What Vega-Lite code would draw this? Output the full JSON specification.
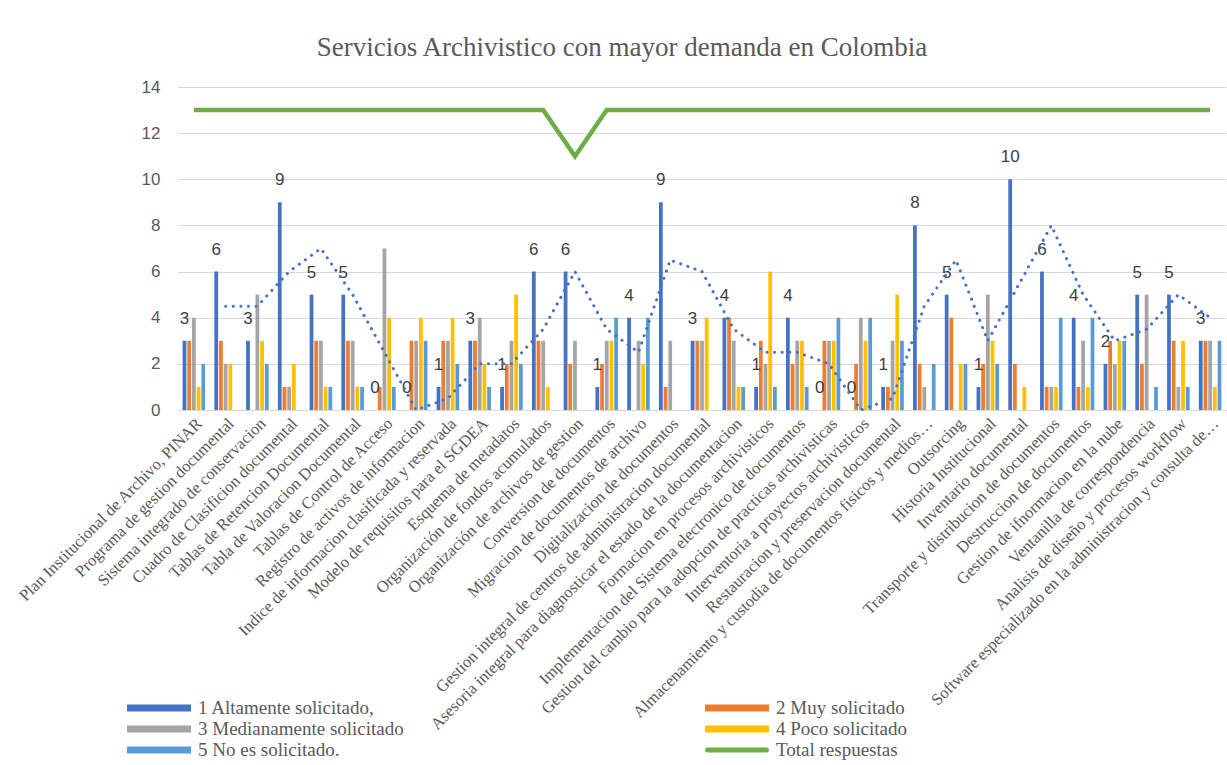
{
  "$schema": "https://vega.github.io/schema/vega-lite/v6.json",
  "width": 1048,
  "height": 323,
  "autosize": {"type": "none"},
  "padding": {"left": 178, "top": 87, "right": 1, "bottom": 355},
  "background": "white",
  "title": {
    "text": "Servicios Archivistico con mayor demanda en Colombia",
    "font": "Liberation Serif, Times New Roman, serif",
    "fontSize": 27,
    "fontWeight": "normal",
    "color": "#595959",
    "anchor": "middle",
    "frame": "group",
    "dx": -80,
    "dy": 36,
    "baseline": "alphabetic",
    "offset": 31
  },
  "config": {
    "view": {"stroke": null},
    "axis": {"grid": false}
  },
  "datasets": {
    "bars": [
      {"c": "Plan Institucional de Archivo, PINAR", "s": "1 Altamente solicitado,", "v": 3},
      {"c": "Plan Institucional de Archivo, PINAR", "s": "2 Muy solicitado", "v": 3},
      {"c": "Plan Institucional de Archivo, PINAR", "s": "3 Medianamente solicitado", "v": 4},
      {"c": "Plan Institucional de Archivo, PINAR", "s": "4 Poco solicitado", "v": 1},
      {"c": "Plan Institucional de Archivo, PINAR", "s": "5 No es solicitado.", "v": 2},
      {"c": "Programa de gestion documental", "s": "1 Altamente solicitado,", "v": 6},
      {"c": "Programa de gestion documental", "s": "2 Muy solicitado", "v": 3},
      {"c": "Programa de gestion documental", "s": "3 Medianamente solicitado", "v": 2},
      {"c": "Programa de gestion documental", "s": "4 Poco solicitado", "v": 2},
      {"c": "Programa de gestion documental", "s": "5 No es solicitado.", "v": 0},
      {"c": "Sistema integrado de conservacion", "s": "1 Altamente solicitado,", "v": 3},
      {"c": "Sistema integrado de conservacion", "s": "2 Muy solicitado", "v": 0},
      {"c": "Sistema integrado de conservacion", "s": "3 Medianamente solicitado", "v": 5},
      {"c": "Sistema integrado de conservacion", "s": "4 Poco solicitado", "v": 3},
      {"c": "Sistema integrado de conservacion", "s": "5 No es solicitado.", "v": 2},
      {"c": "Cuadro de Clasificion documental", "s": "1 Altamente solicitado,", "v": 9},
      {"c": "Cuadro de Clasificion documental", "s": "2 Muy solicitado", "v": 1},
      {"c": "Cuadro de Clasificion documental", "s": "3 Medianamente solicitado", "v": 1},
      {"c": "Cuadro de Clasificion documental", "s": "4 Poco solicitado", "v": 2},
      {"c": "Cuadro de Clasificion documental", "s": "5 No es solicitado.", "v": 0},
      {"c": "Tablas de Retencion Documental", "s": "1 Altamente solicitado,", "v": 5},
      {"c": "Tablas de Retencion Documental", "s": "2 Muy solicitado", "v": 3},
      {"c": "Tablas de Retencion Documental", "s": "3 Medianamente solicitado", "v": 3},
      {"c": "Tablas de Retencion Documental", "s": "4 Poco solicitado", "v": 1},
      {"c": "Tablas de Retencion Documental", "s": "5 No es solicitado.", "v": 1},
      {"c": "Tabla de Valoracion Documental", "s": "1 Altamente solicitado,", "v": 5},
      {"c": "Tabla de Valoracion Documental", "s": "2 Muy solicitado", "v": 3},
      {"c": "Tabla de Valoracion Documental", "s": "3 Medianamente solicitado", "v": 3},
      {"c": "Tabla de Valoracion Documental", "s": "4 Poco solicitado", "v": 1},
      {"c": "Tabla de Valoracion Documental", "s": "5 No es solicitado.", "v": 1},
      {"c": "Tablas de Control de Acceso", "s": "1 Altamente solicitado,", "v": 0},
      {"c": "Tablas de Control de Acceso", "s": "2 Muy solicitado", "v": 1},
      {"c": "Tablas de Control de Acceso", "s": "3 Medianamente solicitado", "v": 7},
      {"c": "Tablas de Control de Acceso", "s": "4 Poco solicitado", "v": 4},
      {"c": "Tablas de Control de Acceso", "s": "5 No es solicitado.", "v": 1},
      {"c": "Registro de activos de informacion", "s": "1 Altamente solicitado,", "v": 0},
      {"c": "Registro de activos de informacion", "s": "2 Muy solicitado", "v": 3},
      {"c": "Registro de activos de informacion", "s": "3 Medianamente solicitado", "v": 3},
      {"c": "Registro de activos de informacion", "s": "4 Poco solicitado", "v": 4},
      {"c": "Registro de activos de informacion", "s": "5 No es solicitado.", "v": 3},
      {"c": "Indice de informacion clasificada y reservada", "s": "1 Altamente solicitado,", "v": 1},
      {"c": "Indice de informacion clasificada y reservada", "s": "2 Muy solicitado", "v": 3},
      {"c": "Indice de informacion clasificada y reservada", "s": "3 Medianamente solicitado", "v": 3},
      {"c": "Indice de informacion clasificada y reservada", "s": "4 Poco solicitado", "v": 4},
      {"c": "Indice de informacion clasificada y reservada", "s": "5 No es solicitado.", "v": 2},
      {"c": "Modelo de requisitos para el SGDEA", "s": "1 Altamente solicitado,", "v": 3},
      {"c": "Modelo de requisitos para el SGDEA", "s": "2 Muy solicitado", "v": 3},
      {"c": "Modelo de requisitos para el SGDEA", "s": "3 Medianamente solicitado", "v": 4},
      {"c": "Modelo de requisitos para el SGDEA", "s": "4 Poco solicitado", "v": 2},
      {"c": "Modelo de requisitos para el SGDEA", "s": "5 No es solicitado.", "v": 1},
      {"c": "Esquema de metadatos", "s": "1 Altamente solicitado,", "v": 1},
      {"c": "Esquema de metadatos", "s": "2 Muy solicitado", "v": 2},
      {"c": "Esquema de metadatos", "s": "3 Medianamente solicitado", "v": 3},
      {"c": "Esquema de metadatos", "s": "4 Poco solicitado", "v": 5},
      {"c": "Esquema de metadatos", "s": "5 No es solicitado.", "v": 2},
      {"c": "Organización de fondos acumulados", "s": "1 Altamente solicitado,", "v": 6},
      {"c": "Organización de fondos acumulados", "s": "2 Muy solicitado", "v": 3},
      {"c": "Organización de fondos acumulados", "s": "3 Medianamente solicitado", "v": 3},
      {"c": "Organización de fondos acumulados", "s": "4 Poco solicitado", "v": 1},
      {"c": "Organización de fondos acumulados", "s": "5 No es solicitado.", "v": 0},
      {"c": "Organización de archivos de gestion", "s": "1 Altamente solicitado,", "v": 6},
      {"c": "Organización de archivos de gestion", "s": "2 Muy solicitado", "v": 2},
      {"c": "Organización de archivos de gestion", "s": "3 Medianamente solicitado", "v": 3},
      {"c": "Organización de archivos de gestion", "s": "4 Poco solicitado", "v": 0},
      {"c": "Organización de archivos de gestion", "s": "5 No es solicitado.", "v": 0},
      {"c": "Conversion de documentos", "s": "1 Altamente solicitado,", "v": 1},
      {"c": "Conversion de documentos", "s": "2 Muy solicitado", "v": 2},
      {"c": "Conversion de documentos", "s": "3 Medianamente solicitado", "v": 3},
      {"c": "Conversion de documentos", "s": "4 Poco solicitado", "v": 3},
      {"c": "Conversion de documentos", "s": "5 No es solicitado.", "v": 4},
      {"c": "Migracion de documentos de archivo", "s": "1 Altamente solicitado,", "v": 4},
      {"c": "Migracion de documentos de archivo", "s": "2 Muy solicitado", "v": 0},
      {"c": "Migracion de documentos de archivo", "s": "3 Medianamente solicitado", "v": 3},
      {"c": "Migracion de documentos de archivo", "s": "4 Poco solicitado", "v": 2},
      {"c": "Migracion de documentos de archivo", "s": "5 No es solicitado.", "v": 4},
      {"c": "Digitalizacion de documentos", "s": "1 Altamente solicitado,", "v": 9},
      {"c": "Digitalizacion de documentos", "s": "2 Muy solicitado", "v": 1},
      {"c": "Digitalizacion de documentos", "s": "3 Medianamente solicitado", "v": 3},
      {"c": "Digitalizacion de documentos", "s": "4 Poco solicitado", "v": 0},
      {"c": "Digitalizacion de documentos", "s": "5 No es solicitado.", "v": 0},
      {"c": "Gestion integral de centros de administracion documental", "s": "1 Altamente solicitado,", "v": 3},
      {"c": "Gestion integral de centros de administracion documental", "s": "2 Muy solicitado", "v": 3},
      {"c": "Gestion integral de centros de administracion documental", "s": "3 Medianamente solicitado", "v": 3},
      {"c": "Gestion integral de centros de administracion documental", "s": "4 Poco solicitado", "v": 4},
      {"c": "Gestion integral de centros de administracion documental", "s": "5 No es solicitado.", "v": 0},
      {"c": "Asesoria integral para diagnosticar el estado de la documentacion", "s": "1 Altamente solicitado,", "v": 4},
      {"c": "Asesoria integral para diagnosticar el estado de la documentacion", "s": "2 Muy solicitado", "v": 4},
      {"c": "Asesoria integral para diagnosticar el estado de la documentacion", "s": "3 Medianamente solicitado", "v": 3},
      {"c": "Asesoria integral para diagnosticar el estado de la documentacion", "s": "4 Poco solicitado", "v": 1},
      {"c": "Asesoria integral para diagnosticar el estado de la documentacion", "s": "5 No es solicitado.", "v": 1},
      {"c": "Formacion en procesos archivisticos", "s": "1 Altamente solicitado,", "v": 1},
      {"c": "Formacion en procesos archivisticos", "s": "2 Muy solicitado", "v": 3},
      {"c": "Formacion en procesos archivisticos", "s": "3 Medianamente solicitado", "v": 2},
      {"c": "Formacion en procesos archivisticos", "s": "4 Poco solicitado", "v": 6},
      {"c": "Formacion en procesos archivisticos", "s": "5 No es solicitado.", "v": 1},
      {"c": "Implementacion del Sistema electronico de documentos", "s": "1 Altamente solicitado,", "v": 4},
      {"c": "Implementacion del Sistema electronico de documentos", "s": "2 Muy solicitado", "v": 2},
      {"c": "Implementacion del Sistema electronico de documentos", "s": "3 Medianamente solicitado", "v": 3},
      {"c": "Implementacion del Sistema electronico de documentos", "s": "4 Poco solicitado", "v": 3},
      {"c": "Implementacion del Sistema electronico de documentos", "s": "5 No es solicitado.", "v": 1},
      {"c": "Gestion del cambio para la adopcion de practicas archivisticas", "s": "1 Altamente solicitado,", "v": 0},
      {"c": "Gestion del cambio para la adopcion de practicas archivisticas", "s": "2 Muy solicitado", "v": 3},
      {"c": "Gestion del cambio para la adopcion de practicas archivisticas", "s": "3 Medianamente solicitado", "v": 3},
      {"c": "Gestion del cambio para la adopcion de practicas archivisticas", "s": "4 Poco solicitado", "v": 3},
      {"c": "Gestion del cambio para la adopcion de practicas archivisticas", "s": "5 No es solicitado.", "v": 4},
      {"c": "Interventoria a proyectos archivisticos", "s": "1 Altamente solicitado,", "v": 0},
      {"c": "Interventoria a proyectos archivisticos", "s": "2 Muy solicitado", "v": 2},
      {"c": "Interventoria a proyectos archivisticos", "s": "3 Medianamente solicitado", "v": 4},
      {"c": "Interventoria a proyectos archivisticos", "s": "4 Poco solicitado", "v": 3},
      {"c": "Interventoria a proyectos archivisticos", "s": "5 No es solicitado.", "v": 4},
      {"c": "Restauracion y preservacion documental", "s": "1 Altamente solicitado,", "v": 1},
      {"c": "Restauracion y preservacion documental", "s": "2 Muy solicitado", "v": 1},
      {"c": "Restauracion y preservacion documental", "s": "3 Medianamente solicitado", "v": 3},
      {"c": "Restauracion y preservacion documental", "s": "4 Poco solicitado", "v": 5},
      {"c": "Restauracion y preservacion documental", "s": "5 No es solicitado.", "v": 3},
      {"c": "Almacenamiento y custodia de documentos fisicos y medios…", "s": "1 Altamente solicitado,", "v": 8},
      {"c": "Almacenamiento y custodia de documentos fisicos y medios…", "s": "2 Muy solicitado", "v": 2},
      {"c": "Almacenamiento y custodia de documentos fisicos y medios…", "s": "3 Medianamente solicitado", "v": 1},
      {"c": "Almacenamiento y custodia de documentos fisicos y medios…", "s": "4 Poco solicitado", "v": 0},
      {"c": "Almacenamiento y custodia de documentos fisicos y medios…", "s": "5 No es solicitado.", "v": 2},
      {"c": "Outsorcing", "s": "1 Altamente solicitado,", "v": 5},
      {"c": "Outsorcing", "s": "2 Muy solicitado", "v": 4},
      {"c": "Outsorcing", "s": "3 Medianamente solicitado", "v": 0},
      {"c": "Outsorcing", "s": "4 Poco solicitado", "v": 2},
      {"c": "Outsorcing", "s": "5 No es solicitado.", "v": 2},
      {"c": "Historia Institucional", "s": "1 Altamente solicitado,", "v": 1},
      {"c": "Historia Institucional", "s": "2 Muy solicitado", "v": 2},
      {"c": "Historia Institucional", "s": "3 Medianamente solicitado", "v": 5},
      {"c": "Historia Institucional", "s": "4 Poco solicitado", "v": 3},
      {"c": "Historia Institucional", "s": "5 No es solicitado.", "v": 2},
      {"c": "Inventario documental", "s": "1 Altamente solicitado,", "v": 10},
      {"c": "Inventario documental", "s": "2 Muy solicitado", "v": 2},
      {"c": "Inventario documental", "s": "3 Medianamente solicitado", "v": 0},
      {"c": "Inventario documental", "s": "4 Poco solicitado", "v": 1},
      {"c": "Inventario documental", "s": "5 No es solicitado.", "v": 0},
      {"c": "Transporte y distribucion de documentos", "s": "1 Altamente solicitado,", "v": 6},
      {"c": "Transporte y distribucion de documentos", "s": "2 Muy solicitado", "v": 1},
      {"c": "Transporte y distribucion de documentos", "s": "3 Medianamente solicitado", "v": 1},
      {"c": "Transporte y distribucion de documentos", "s": "4 Poco solicitado", "v": 1},
      {"c": "Transporte y distribucion de documentos", "s": "5 No es solicitado.", "v": 4},
      {"c": "Destruccion de documentos", "s": "1 Altamente solicitado,", "v": 4},
      {"c": "Destruccion de documentos", "s": "2 Muy solicitado", "v": 1},
      {"c": "Destruccion de documentos", "s": "3 Medianamente solicitado", "v": 3},
      {"c": "Destruccion de documentos", "s": "4 Poco solicitado", "v": 1},
      {"c": "Destruccion de documentos", "s": "5 No es solicitado.", "v": 4},
      {"c": "Gestion de ifnormacion en la nube", "s": "1 Altamente solicitado,", "v": 2},
      {"c": "Gestion de ifnormacion en la nube", "s": "2 Muy solicitado", "v": 3},
      {"c": "Gestion de ifnormacion en la nube", "s": "3 Medianamente solicitado", "v": 2},
      {"c": "Gestion de ifnormacion en la nube", "s": "4 Poco solicitado", "v": 3},
      {"c": "Gestion de ifnormacion en la nube", "s": "5 No es solicitado.", "v": 3},
      {"c": "Ventanilla de correspondencia", "s": "1 Altamente solicitado,", "v": 5},
      {"c": "Ventanilla de correspondencia", "s": "2 Muy solicitado", "v": 2},
      {"c": "Ventanilla de correspondencia", "s": "3 Medianamente solicitado", "v": 5},
      {"c": "Ventanilla de correspondencia", "s": "4 Poco solicitado", "v": 0},
      {"c": "Ventanilla de correspondencia", "s": "5 No es solicitado.", "v": 1},
      {"c": "Analisis de diseño y procesos workflow", "s": "1 Altamente solicitado,", "v": 5},
      {"c": "Analisis de diseño y procesos workflow", "s": "2 Muy solicitado", "v": 3},
      {"c": "Analisis de diseño y procesos workflow", "s": "3 Medianamente solicitado", "v": 1},
      {"c": "Analisis de diseño y procesos workflow", "s": "4 Poco solicitado", "v": 3},
      {"c": "Analisis de diseño y procesos workflow", "s": "5 No es solicitado.", "v": 1},
      {"c": "Software especializado en la administracion y consulta de…", "s": "1 Altamente solicitado,", "v": 3},
      {"c": "Software especializado en la administracion y consulta de…", "s": "2 Muy solicitado", "v": 3},
      {"c": "Software especializado en la administracion y consulta de…", "s": "3 Medianamente solicitado", "v": 3},
      {"c": "Software especializado en la administracion y consulta de…", "s": "4 Poco solicitado", "v": 1},
      {"c": "Software especializado en la administracion y consulta de…", "s": "5 No es solicitado.", "v": 3}
    ],
    "cats": [
      {"c": "Plan Institucional de Archivo, PINAR", "total": 13, "trend": null},
      {"c": "Programa de gestion documental", "total": 13, "trend": 4.5},
      {"c": "Sistema integrado de conservacion", "total": 13, "trend": 4.5},
      {"c": "Cuadro de Clasificion documental", "total": 13, "trend": 6},
      {"c": "Tablas de Retencion Documental", "total": 13, "trend": 7},
      {"c": "Tabla de Valoracion Documental", "total": 13, "trend": 5},
      {"c": "Tablas de Control de Acceso", "total": 13, "trend": 2.5},
      {"c": "Registro de activos de informacion", "total": 13, "trend": 0},
      {"c": "Indice de informacion clasificada y reservada", "total": 13, "trend": 0.5},
      {"c": "Modelo de requisitos para el SGDEA", "total": 13, "trend": 2},
      {"c": "Esquema de metadatos", "total": 13, "trend": 2},
      {"c": "Organización de fondos acumulados", "total": 13, "trend": 3.5},
      {"c": "Organización de archivos de gestion", "total": 11, "trend": 6},
      {"c": "Conversion de documentos", "total": 13, "trend": 3.5},
      {"c": "Migracion de documentos de archivo", "total": 13, "trend": 2.5},
      {"c": "Digitalizacion de documentos", "total": 13, "trend": 6.5},
      {"c": "Gestion integral de centros de administracion documental", "total": 13, "trend": 6},
      {"c": "Asesoria integral para diagnosticar el estado de la documentacion", "total": 13, "trend": 3.5},
      {"c": "Formacion en procesos archivisticos", "total": 13, "trend": 2.5},
      {"c": "Implementacion del Sistema electronico de documentos", "total": 13, "trend": 2.5},
      {"c": "Gestion del cambio para la adopcion de practicas archivisticas", "total": 13, "trend": 2},
      {"c": "Interventoria a proyectos archivisticos", "total": 13, "trend": 0},
      {"c": "Restauracion y preservacion documental", "total": 13, "trend": 0.5},
      {"c": "Almacenamiento y custodia de documentos fisicos y medios…", "total": 13, "trend": 4.5},
      {"c": "Outsorcing", "total": 13, "trend": 6.5},
      {"c": "Historia Institucional", "total": 13, "trend": 3},
      {"c": "Inventario documental", "total": 13, "trend": 5.5},
      {"c": "Transporte y distribucion de documentos", "total": 13, "trend": 8},
      {"c": "Destruccion de documentos", "total": 13, "trend": 5},
      {"c": "Gestion de ifnormacion en la nube", "total": 13, "trend": 3},
      {"c": "Ventanilla de correspondencia", "total": 13, "trend": 3.5},
      {"c": "Analisis de diseño y procesos workflow", "total": 13, "trend": 5},
      {"c": "Software especializado en la administracion y consulta de…", "total": 13, "trend": 4}
    ]
  },
  "layer": [
    {
      "data": {"name": "bars"},
      "mark": {"type": "bar"},
      "encoding": {
        "x": {
          "field": "c", "type": "nominal", "sort": null,
          "scale": {"paddingInner": 0.29, "paddingOuter": 0.145},
          "axis": {
            "title": null, "labelAngle": -45, "labelFont": "Liberation Serif, Times New Roman, serif",
            "labelFontSize": 16.5, "labelColor": "#595959", "ticks": false,
            "domainColor": "#D9D9D9", "labelLimit": 500, "labelOverlap": false,
            "labelPadding": 5, "grid": false
          }
        },
        "xOffset": {
          "field": "s", "type": "nominal",
          "scale": {
            "domain": ["1 Altamente solicitado,", "2 Muy solicitado", "3 Medianamente solicitado", "4 Poco solicitado", "5 No es solicitado."],
            "paddingInner": 0.2
          }
        },
        "y": {
          "field": "v", "type": "quantitative",
          "scale": {"domain": [0, 14]},
          "axis": {
            "title": null, "values": [0, 2, 4, 6, 8, 10, 12, 14], "domain": false, "ticks": false,
            "grid": true, "gridColor": "#D9D9D9", "labelFont": "Liberation Sans",
            "labelFontSize": 17, "labelColor": "#595959", "labelPadding": 18
          }
        },
        "color": {
          "field": "s", "type": "nominal",
          "scale": {
            "domain": ["1 Altamente solicitado,", "3 Medianamente solicitado", "5 No es solicitado.", "2 Muy solicitado", "4 Poco solicitado", "Total respuestas"],
            "range": ["#4472C4", "#A5A5A5", "#5B9BD5", "#ED7D31", "#FFC000", "#70AD47"]
          },
          "legend": {
            "title": null,
            "orient": "none",
            "legendX": -29,
            "legendY": 611,
            "columns": 2,
            "columnPadding": 301,
            "rowPadding": 1,
            "symbolSize": 400,
            "symbolType": "M-3.2,-0.35H3.2V0.35H-3.2Z",
            "symbolStrokeWidth": 0,
            "labelFont": "Liberation Serif, Times New Roman, serif",
            "labelFontSize": 19,
            "labelColor": "#595959",
            "labelOffset": 29,
            "labelLimit": 400,
            "encode": {
              "symbols": {
                "update": {
                  "fill": {"scale": "color", "field": "value"},
                  "strokeWidth": {"value": 0},
                  "opacity": {"value": 1},
                  "shape": {"signal": "datum.value === 'Total respuestas' ? 'M-2.95,-0.25H2.95A0.25,0.25 0 0 1 2.95,0.25H-2.95A0.25,0.25 0 0 1 -2.95,-0.25Z' : 'M-3.2,-0.35H3.2V0.35H-3.2Z'"}
                }
              }
            }
          }
        }
      }
    },
    {
      "data": {"name": "bars"},
      "transform": [{"filter": "datum.s === '1 Altamente solicitado,'"}],
      "mark": {"type": "text", "baseline": "alphabetic", "dy": -17, "font": "Liberation Sans", "fontSize": 17, "color": "#404040"},
      "encoding": {
        "x": {"field": "c", "type": "nominal", "sort": null},
        "xOffset": {"field": "s", "type": "nominal"},
        "y": {"field": "v", "type": "quantitative"},
        "text": {"field": "v", "type": "quantitative"}
      }
    },
    {
      "data": {"name": "cats"},
      "mark": {"type": "line", "strokeWidth": 3, "strokeDash": [0.1, 7.5], "strokeCap": "round", "color": "#4472C4"},
      "encoding": {
        "x": {"field": "c", "type": "nominal", "sort": null},
        "y": {"field": "trend", "type": "quantitative"}
      }
    },
    {
      "data": {"name": "cats"},
      "mark": {"type": "line", "strokeWidth": 4.5},
      "encoding": {
        "x": {"field": "c", "type": "nominal", "sort": null},
        "y": {"field": "total", "type": "quantitative"},
        "color": {"datum": "Total respuestas"}
      }
    }
  ]
}
